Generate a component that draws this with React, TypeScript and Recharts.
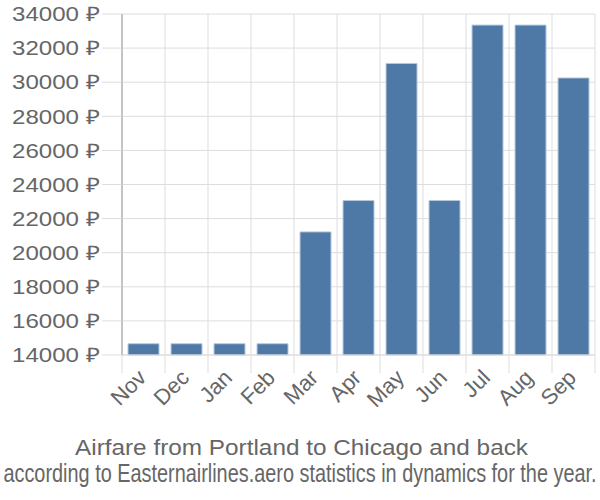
import { BarChart, Bar, XAxis, YAxis, CartesianGrid } from 'recharts';

const months = ['Nov', 'Dec', 'Jan', 'Feb', 'Mar', 'Apr', 'May', 'Jun', 'Jul', 'Aug', 'Sep'];
const prices = [14660, 14660, 14660, 14660, 21220, 23060, 31100, 23060, 33350, 33350, 30250];
const yTicks = [14000, 16000, 18000, 20000, 22000, 24000, 26000, 28000, 30000, 32000, 34000];

const title = 'Airfare from Portland to Chicago and back';
const subtitle = 'according to Easternairlines.aero statistics in dynamics for the year.';

const data = months.map((m, i) => ({ month: m, price: prices[i] }));

const FONT = '"Liberation Sans", Arial, sans-serif';
const TEXT = '#666';
const GRID = '#ddd';

const PLOT_LEFT = 122;
const PLOT_WIDTH = 473;

const XTick = (props: any) => {
  const { x, y, payload, index } = props;
  const bw = PLOT_WIDTH / months.length;
  const top = y - 8;
  const tx = x + 4;
  const ty = top + 24;
  return (
    <g>
      <line x1={x - bw / 2} x2={x - bw / 2} y1={top} y2={top + 18} stroke={GRID} />
      {index === months.length - 1 && (
        <line x1={x + bw / 2} x2={x + bw / 2} y1={top} y2={top + 18} stroke={GRID} />
      )}
      <text
        x={tx}
        y={ty}
        transform={`rotate(-45 ${tx} ${ty})`}
        textAnchor="end"
        fontSize={22}
        fontFamily={FONT}
        fill={TEXT}
      >
        {payload.value}
      </text>
    </g>
  );
};

const YTick = (props: any) => {
  const { x, y, payload } = props;
  return (
    <text
      x={x}
      y={y}
      dy="0.36em"
      textAnchor="end"
      fontSize={20}
      fontFamily={FONT}
      fill={TEXT}
      textLength={88}
      lengthAdjust="spacingAndGlyphs"
    >
      {`${payload.value} ₽`}
    </text>
  );
};

export default function App() {
  return (
    <div style={{ position: 'absolute', left: 0, top: 0, width: 600, height: 500, background: '#fff' }}>
      <BarChart
        width={600}
        height={420}
        data={data}
        margin={{ top: 14, right: 5, left: 0, bottom: 0 }}
        barCategoryGap="14%"
      >
        <CartesianGrid
          stroke={GRID}
          verticalCoordinatesGenerator={({ offset }: any) =>
            months.map((_, i) => offset.left + (i * offset.width) / months.length).concat(offset.left + offset.width)
          }
        />
        <XAxis
          dataKey="month"
          interval={0}
          height={65}
          axisLine={{ stroke: GRID }}
          tickLine={false}
          tick={<XTick />}
        />
        <YAxis
          domain={[14000, 34000]}
          ticks={yTicks}
          width={PLOT_LEFT}
          tickSize={20}
          tickLine={{ stroke: GRID }}
          axisLine={{ stroke: '#999' }}
          tick={<YTick />}
        />
        <Bar
          dataKey="price"
          fill="#4e79a7"
          stroke="#b8c9dc"
          strokeWidth={1}
          isAnimationActive={false}
        />
      </BarChart>
      <svg width={600} height={80} style={{ position: 'absolute', left: 0, top: 420 }}>
        <text
          x={75}
          y={35}
          fontSize={22}
          fontFamily={FONT}
          fill={TEXT}
          textLength={453}
          lengthAdjust="spacingAndGlyphs"
        >
          {title}
        </text>
        <g transform="scale(0.795 1)">
          <text
            x={300 / 0.795}
            y={62}
            textAnchor="middle"
            fontSize={25}
            fontFamily={FONT}
            fill={TEXT}
          >
            {subtitle}
          </text>
        </g>
      </svg>
    </div>
  );
}
